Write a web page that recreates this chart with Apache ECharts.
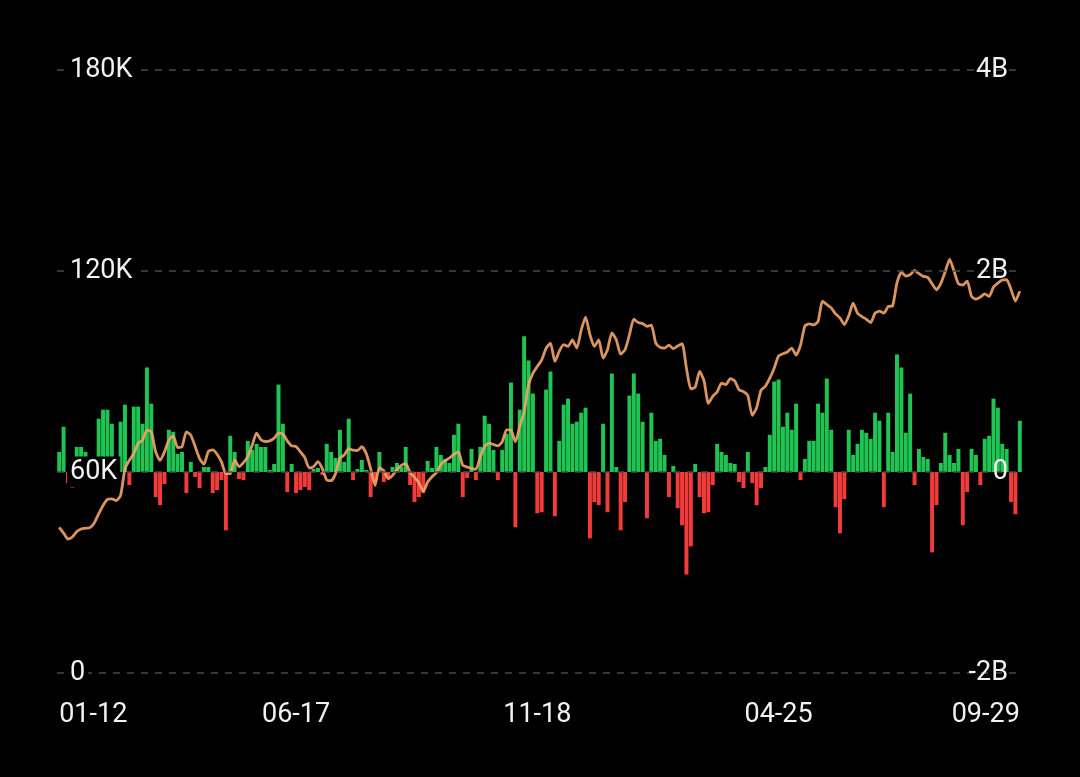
<!DOCTYPE html>
<html>
<head>
<meta charset="utf-8">
<script src="https://cdn.jsdelivr.net/npm/echarts@6/dist/echarts.min.js"></script>
<style>
html,body{margin:0;padding:0;background:#000;}
#chart{width:1080px;height:777px;}
</style>
</head>
<body>
<div id="chart"></div>
<script>
// Price line (thousands)
const priceK = [
43.5,41.8,40.0,40.6,42.2,43.0,43.2,43.4,44.8,47.5,
50.0,51.8,52.0,51.5,53.0,61.0,63.5,65.5,68.6,69.5,
72.5,72.0,66.0,63.5,66.0,69.5,70.8,67.3,67.5,72.0,
71.0,67.6,64.0,62.3,66.1,66.6,65.3,63.0,59.5,59.5,
63.6,61.6,62.8,64.6,68.0,71.6,69.6,69.1,69.3,70.1,
71.6,71.3,69.3,67.8,67.6,66.0,64.3,61.2,61.6,63.1,
61.0,57.6,57.4,59.5,64.1,65.1,67.0,66.5,66.4,67.6,
65.5,61.0,56.0,61.3,60.4,58.0,59.0,60.8,62.0,62.5,
59.8,58.4,56.8,54.2,57.0,58.6,59.8,62.2,63.4,64.2,
65.3,66.0,62.0,61.5,61.1,60.8,64.5,67.6,68.6,68.2,
67.8,69.0,72.6,72.5,69.0,73.6,78.0,86.0,89.5,91.5,
93.5,96.9,98.5,93.0,96.0,98.0,97.5,99.4,97.0,102.3,
106.2,101.0,97.5,99.4,94.0,96.5,101.5,99.5,95.2,96.5,
100.9,105.6,104.6,104.3,103.5,103.8,98.5,97.2,97.0,97.9,
96.8,97.6,98.3,91.0,84.8,85.3,90.0,87.3,80.5,82.6,
83.9,86.5,86.1,87.9,87.2,84.5,84.0,82.8,76.9,79.2,
84.4,85.6,88.0,91.0,94.6,95.3,95.8,97.0,94.9,97.8,
103.6,104.2,103.9,104.9,111.0,110.0,109.0,107.2,106.0,104.0,
106.6,110.4,107.4,106.4,105.6,104.6,107.4,108.0,107.4,109.4,
109.6,116.5,119.6,118.5,118.9,120.2,119.2,118.4,118.1,116.2,
114.4,116.3,119.8,123.5,120.0,116.2,115.8,117.0,112.4,111.6,
112.2,113.2,112.4,115.2,116.4,117.3,117.4,114.5,111.0,114.0
];
// Net flow bars (billions)
const flowB = [
0.20,0.45,-0.11,-0.16,0.25,0.25,0.20,0.03,0.05,0.53,
0.62,0.62,0.48,-0.10,0.50,0.67,-0.13,0.65,0.65,0.48,
1.04,0.68,-0.25,-0.33,-0.12,0.42,0.40,0.18,0.20,-0.21,
0.10,-0.05,-0.16,0.05,0.05,-0.21,-0.18,-0.08,-0.58,0.36,
0.20,-0.07,-0.08,0.31,0.22,0.28,0.25,0.25,0.02,0.08,
0.87,0.48,-0.20,0.08,-0.21,-0.18,-0.15,-0.18,0.03,0.04,
-0.03,0.28,0.20,0.14,0.42,0.10,0.53,-0.08,0.03,0.12,
0.02,-0.25,-0.10,0.20,-0.10,-0.05,0.05,0.09,0.05,0.25,
-0.13,-0.30,-0.25,-0.21,0.11,0.04,0.25,0.17,0.13,0.09,
0.37,0.48,-0.25,-0.06,0.23,-0.08,0.25,0.56,0.48,0.22,
-0.08,0.22,0.38,0.89,-0.55,0.62,1.35,1.11,0.78,-0.41,
-0.40,0.82,1.00,-0.44,0.31,0.67,0.73,0.48,0.50,0.59,
0.64,-0.66,-0.30,-0.33,0.48,-0.40,0.98,0.05,-0.58,-0.30,
0.76,0.98,0.78,0.50,-0.46,0.59,0.31,0.33,0.17,-0.25,
0.06,-0.36,-0.53,-1.02,-0.74,0.08,-0.25,-0.41,-0.40,-0.13,
0.28,0.20,0.17,0.09,0.08,-0.10,-0.16,0.20,-0.11,-0.33,
-0.16,0.05,0.37,0.90,0.92,0.45,0.59,0.42,0.68,-0.08,
0.13,0.31,0.31,0.68,0.59,0.93,0.42,-0.35,-0.61,-0.27,
0.42,0.17,0.28,0.42,0.39,0.33,0.59,0.51,-0.35,0.59,
0.20,1.17,1.04,0.39,0.78,-0.13,0.23,0.15,0.13,-0.80,
-0.33,0.09,0.39,0.17,0.09,0.23,-0.53,-0.20,0.23,0.17,
-0.13,0.33,0.36,0.73,0.64,0.28,0.23,-0.30,-0.42,0.51
];
const xTickLabels = ['01-12','06-17','11-18','04-25','09-29'];
const xTickIndex = [0, 54, 109, 164, 219];
const leftTicks = [0, 60, 120, 180];
const rightTicks = [-2, 0, 2, 4];

const categories = priceK.map((_, i) => String(i));
const GREEN = '#20c453';
const RED = '#f23c3c';
const TEXT = '#f2f2f2';
const FONT = 'Roboto';

const chart = echarts.init(document.getElementById('chart'), null, {renderer: 'canvas'});
chart.setOption({
  backgroundColor: '#000',
  animation: false,
  grid: {left: 57, right: 58, top: 70, bottom: 104},
  xAxis: {
    type: 'category',
    data: categories,
    boundaryGap: true,
    axisLine: {show: false},
    axisTick: {show: false},
    splitLine: {show: false},
    axisLabel: {
      interval: (idx) => xTickIndex.indexOf(idx) >= 0,
      formatter: (v, idx) => { const k = xTickIndex.indexOf(idx); return k >= 0 ? xTickLabels[k] : ''; },
      color: TEXT, fontSize: 27, fontFamily: FONT, margin: 29,
      alignMinLabel: 'left', alignMaxLabel: 'right'
    }
  },
  yAxis: [
    {
      type: 'value', position: 'left', min: leftTicks[0], max: leftTicks[leftTicks.length - 1], interval: 60,
      z: 5,
      axisLine: {show: false}, axisTick: {show: false},
      splitLine: {show: true, lineStyle: {color: '#4a4a4a', width: 1.5, type: [7, 7]}},
      axisLabel: {
        inside: true, margin: 10, color: TEXT, fontSize: 27, fontFamily: FONT,
        backgroundColor: '#000', padding: [2, 3],
        formatter: (v) => v === 0 ? '0' : v + 'K'
      }
    },
    {
      type: 'value', position: 'right', min: rightTicks[0], max: rightTicks[rightTicks.length - 1], interval: 2,
      z: 5,
      axisLine: {show: false}, axisTick: {show: false},
      splitLine: {show: false},
      axisLabel: {
        inside: true, margin: 14, color: TEXT, fontSize: 27, fontFamily: FONT,
        formatter: (v) => v === 0 ? '0' : v + 'B'
      }
    }
  ],
  series: [
    {
      type: 'bar', yAxisIndex: 1, data: flowB, barCategoryGap: '10%',
      itemStyle: {color: (p) => p.value >= 0 ? GREEN : RED},
      z: 2
    },
    {
      type: 'line', yAxisIndex: 0, data: priceK, symbol: 'none', smooth: 0.2,
      lineStyle: {color: 'rgba(242,164,104,0.9)', width: 2.8},
      z: 3
    }
  ]
});
</script>
</body>
</html>
